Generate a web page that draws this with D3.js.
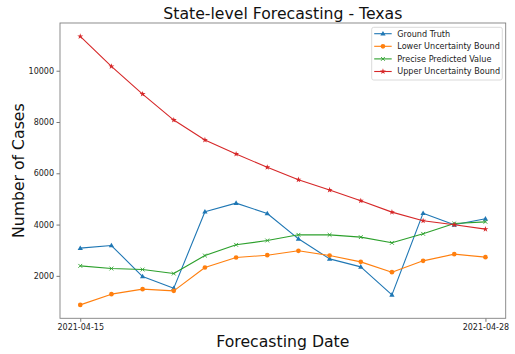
<!DOCTYPE html>
<html>
<head>
<meta charset="utf-8">
<script src="https://cdn.jsdelivr.net/npm/d3@7"></script>
<style>
  html, body { margin: 0; padding: 0; background: #fff; }
  svg { display: block; font-family: "DejaVu Sans", sans-serif; }
</style>
</head>
<body>
<svg id="chart" width="515" height="354"></svg>
<script>
// Daily dates of the forecasting window
const dates = ["2021-04-15","2021-04-16","2021-04-17","2021-04-18","2021-04-19","2021-04-20","2021-04-21",
               "2021-04-22","2021-04-23","2021-04-24","2021-04-25","2021-04-26","2021-04-27","2021-04-28"];
const groundTruth = [3080, 3183, 1973, 1520, 4500, 4837, 4430, 3444, 2663, 2351, 1259, 4445, 3990, 4224];
const lowerBound  = [868, 1286, 1481, 1415, 2324, 2714, 2806, 2976, 2792, 2546, 2144, 2585, 2846, 2729];
const predicted   = [2390, 2286, 2247, 2090, 2792, 3210, 3378, 3600, 3600, 3510, 3288, 3639, 4041, 4107];
const upperBound  = [11338, 10168, 9090, 8075, 7300, 6749, 6235, 5750, 5350, 4927, 4485, 4146, 3990, 3822];
const seriesNames = ["Ground Truth", "Lower Uncertainty Bound", "Precise Predicted Value", "Upper Uncertainty Bound"];
const yTicks = [2000, 4000, 6000, 8000, 10000];
const xTickLabels = ["2021-04-15", "2021-04-28"];

const colors = ["#1f77b4", "#ff7f0e", "#2ca02c", "#d62728"];
const markers = ["triangle", "circle", "x", "star"];
const seriesValues = [groundTruth, lowerBound, predicted, upperBound];

const svg = d3.select("#chart");
const plot = { left: 60, top: 23, right: 505.7, bottom: 318.3 };

const parse = d3.utcParse("%Y-%m-%d");
const dateObjs = dates.map(parse);

// 5% padding on both axes
const tExt = d3.extent(dateObjs);
const tPad = (tExt[1] - tExt[0]) * 0.05;
const x = d3.scaleUtc()
  .domain([new Date(+tExt[0] - tPad), new Date(+tExt[1] + tPad)])
  .range([plot.left, plot.right]);

const allVals = seriesValues.flat();
const vMin = d3.min(allVals), vMax = d3.max(allVals);
const vPad = (vMax - vMin) * 0.05;
const y = d3.scaleLinear()
  .domain([vMin - vPad, vMax + vPad])
  .range([plot.bottom, plot.top]);

// Axes
const xAxis = d3.axisBottom(x)
  .tickValues(xTickLabels.map(parse))
  .tickFormat(d3.utcFormat("%Y-%m-%d"))
  .tickSizeOuter(0).tickSize(3.5).tickPadding(2.5);
const yAxis = d3.axisLeft(y)
  .tickValues(yTicks)
  .tickFormat(d3.format("d"))
  .tickSizeOuter(0).tickSize(3.5).tickPadding(2.5);

const gx = svg.append("g").attr("transform", `translate(0,${plot.bottom})`).call(xAxis);
const gy = svg.append("g").attr("transform", `translate(${plot.left},0)`).call(yAxis);
[gx, gy].forEach(g => {
  g.select(".domain").remove();
  g.selectAll(".tick line").attr("stroke", "#555").attr("stroke-width", 0.8);
  g.selectAll(".tick text").attr("fill", "#222").style("font-size", "8px")
    .style("font-family", "'DejaVu Sans', sans-serif");
});

// Frame
svg.append("rect")
  .attr("x", plot.left).attr("y", plot.top)
  .attr("width", plot.right - plot.left).attr("height", plot.bottom - plot.top)
  .attr("fill", "none").attr("stroke", "#808080").attr("stroke-width", 0.9);

// Marker drawing
function drawMarker(g, type, color) {
  if (type === "triangle") {
    g.append("path").attr("d", d3.symbol().type(d3.symbolTriangle).size(12)())
      .attr("fill", color).attr("transform", "translate(0,0.3)");
  } else if (type === "circle") {
    g.append("path").attr("d", d3.symbol().type(d3.symbolCircle).size(17)()).attr("fill", color);
  } else if (type === "x") {
    const r = 1.9;
    g.append("path").attr("d", `M${-r},${-r}L${r},${r}M${-r},${r}L${r},${-r}`)
      .attr("stroke", color).attr("stroke-width", 0.9).attr("fill", "none");
  } else if (type === "star") {
    g.append("path").attr("d", d3.symbol().type(d3.symbolStar).size(11)()).attr("fill", color);
  }
}

const line = d3.line().x((d, i) => x(dateObjs[i])).y(d => y(d));

seriesValues.forEach((vals, si) => {
  const g = svg.append("g");
  g.append("path").datum(vals).attr("d", line)
    .attr("fill", "none").attr("stroke", colors[si]).attr("stroke-width", 1.1)
    .attr("stroke-linejoin", "round");
  vals.forEach((v, i) => {
    const m = g.append("g").attr("transform", `translate(${x(dateObjs[i])},${y(v)})`);
    drawMarker(m, markers[si], colors[si]);
  });
});

// Title and axis labels
svg.append("text").attr("x", (plot.left + plot.right) / 2).attr("y", 19)
  .attr("text-anchor", "middle").style("font-size", "15.7px").attr("fill", "#111")
  .text("State-level Forecasting - Texas");
svg.append("text").attr("x", (plot.left + plot.right) / 2).attr("y", 346.5)
  .attr("text-anchor", "middle").style("font-size", "15.7px").attr("fill", "#111")
  .text("Forecasting Date");
svg.append("text")
  .attr("transform", `translate(23.5,${(plot.top + plot.bottom) / 2}) rotate(-90)`)
  .attr("text-anchor", "middle").style("font-size", "15.7px").attr("fill", "#111")
  .text("Number of Cases");

// Legend
const lg = svg.append("g").attr("transform", "translate(371.7,27.3)");
lg.append("rect").attr("width", 130.6).attr("height", 52.7).attr("rx", 2)
  .attr("fill", "#fff").attr("fill-opacity", 0.8).attr("stroke", "#d0d0d0").attr("stroke-width", 0.8);
seriesNames.forEach((name, i) => {
  const ry = 6.4 + i * 12.6;
  lg.append("line").attr("x1", 2.5).attr("x2", 20).attr("y1", ry).attr("y2", ry)
    .attr("stroke", colors[i]).attr("stroke-width", 1.1);
  const m = lg.append("g").attr("transform", `translate(11.25,${ry})`);
  drawMarker(m, markers[i], colors[i]);
  lg.append("text").attr("x", 25.6).attr("y", ry + 2.9)
    .style("font-size", "8.1px").attr("fill", "#222").text(name);
});
</script>
</body>
</html>
